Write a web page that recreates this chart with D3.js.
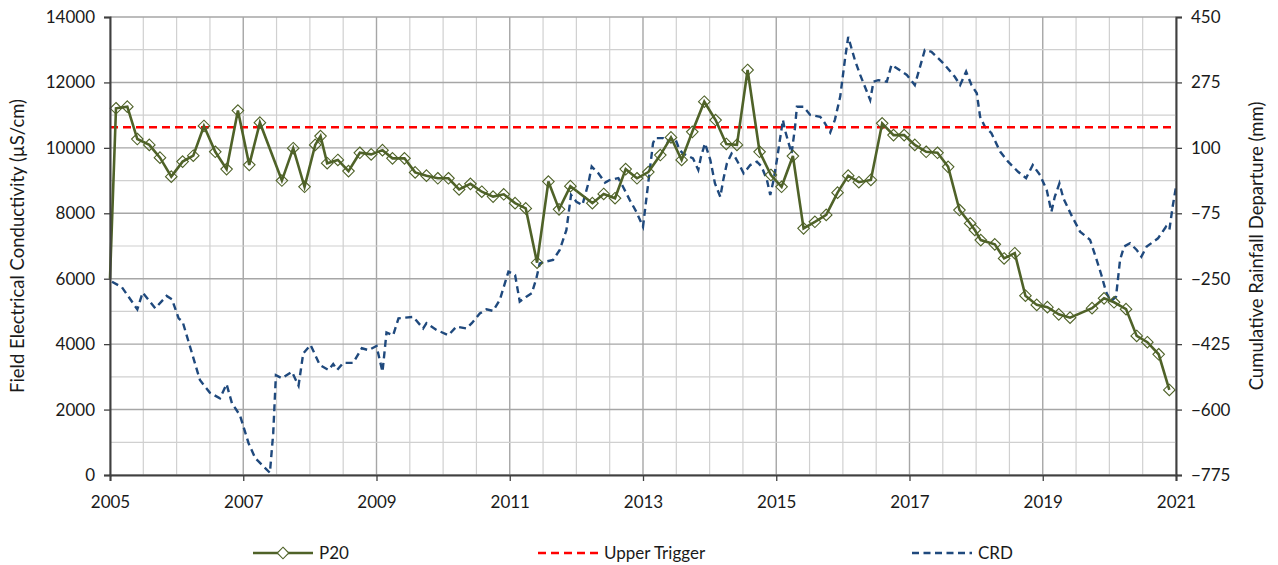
<!DOCTYPE html>
<html>
<head>
<meta charset="utf-8">
<script src="https://cdn.jsdelivr.net/npm/d3@7"></script>
<style>
  html, body { margin: 0; padding: 0; background: #fff; }
  svg { display: block; font-family: Lato, "Open Sans", "Liberation Sans", sans-serif; }
</style>
</head>
<body>
<svg id="chart" width="1278" height="565"></svg>
<script>
// P20 field EC samples (decimal year, µS/cm)
const p20Dates = [2005.0, 2005.09, 2005.26, 2005.41, 2005.59, 2005.75, 2005.92, 2006.09, 2006.25, 2006.41,
  2006.58, 2006.75, 2006.92, 2007.09, 2007.25, 2007.58, 2007.75, 2007.92, 2008.08, 2008.16,
  2008.26, 2008.42, 2008.58, 2008.75, 2008.92, 2009.09, 2009.24, 2009.42, 2009.58, 2009.75,
  2009.92, 2010.08, 2010.24, 2010.41, 2010.58, 2010.75, 2010.91, 2011.08, 2011.24, 2011.41,
  2011.58, 2011.74, 2011.91, 2012.24, 2012.41, 2012.58, 2012.74, 2012.91, 2013.08, 2013.26,
  2013.42, 2013.58, 2013.74, 2013.92, 2014.09, 2014.25, 2014.41, 2014.57, 2014.75, 2014.92,
  2015.08, 2015.25, 2015.41, 2015.58, 2015.75, 2015.92, 2016.08, 2016.24, 2016.42, 2016.59,
  2016.76, 2016.92, 2017.08, 2017.25, 2017.42, 2017.58, 2017.75, 2017.91, 2017.98, 2018.07,
  2018.28, 2018.42, 2018.58, 2018.74, 2018.91, 2019.07, 2019.24, 2019.41, 2019.74, 2019.92,
  2020.07, 2020.25, 2020.41, 2020.57, 2020.74, 2020.90];
const p20Values = [6000, 11210, 11260, 10270, 10090, 9700, 9120, 9580, 9760, 10670,
  9880, 9350, 11140, 9480, 10770, 9000, 9990, 8810, 10090, 10360,
  9530, 9630, 9290, 9850, 9800, 9930, 9680, 9680, 9250, 9150,
  9070, 9070, 8730, 8900, 8660, 8510, 8580, 8310, 8150, 6490,
  8970, 8120, 8830, 8310, 8590, 8460, 9350, 9070, 9260, 9780,
  10320, 9630, 10490, 11410, 10850, 10120, 10090, 12380, 9880, 9170,
  8810, 9750, 7540, 7740, 7950, 8630, 9150, 8950, 9020, 10750,
  10390, 10390, 10090, 9880, 9850, 9420, 8100, 7690, 7490, 7180,
  7050, 6620, 6780, 5480, 5200, 5130, 4910, 4810, 5100, 5400,
  5280, 5070, 4250, 4060, 3690, 2600];

// Upper trigger level (µS/cm)
const upperTrigger = 10630;

// Cumulative rainfall departure (decimal year, mm)
const crdDates = [2005.03, 2005.18, 2005.41, 2005.49, 2005.68, 2005.85, 2005.93, 2006.03, 2006.09, 2006.35,
  2006.50, 2006.65, 2006.75, 2006.83, 2006.95, 2007.08, 2007.18, 2007.40, 2007.45, 2007.49,
  2007.58, 2007.73, 2007.83, 2007.90, 2008.01, 2008.15, 2008.28, 2008.35, 2008.41, 2008.50,
  2008.65, 2008.78, 2008.88, 2009.00, 2009.09, 2009.15, 2009.25, 2009.33, 2009.55, 2009.70,
  2009.75, 2009.90, 2010.08, 2010.20, 2010.35, 2010.43, 2010.55, 2010.65, 2010.75, 2010.85,
  2010.98, 2011.08, 2011.15, 2011.25, 2011.33, 2011.40, 2011.45, 2011.55, 2011.65, 2011.75,
  2011.85, 2011.92, 2012.00, 2012.09, 2012.18, 2012.23, 2012.33, 2012.43, 2012.50, 2012.63,
  2012.70, 2012.80, 2012.90, 2013.00, 2013.15, 2013.18, 2013.30, 2013.36, 2013.48, 2013.55,
  2013.60, 2013.75, 2013.83, 2013.87, 2013.93, 2014.01, 2014.08, 2014.16, 2014.21, 2014.26,
  2014.33, 2014.38, 2014.46, 2014.51, 2014.61, 2014.71, 2014.78, 2014.86, 2014.91, 2014.96,
  2015.01, 2015.10, 2015.13, 2015.23, 2015.28, 2015.31, 2015.41, 2015.51, 2015.66, 2015.73,
  2015.81, 2015.88, 2015.96, 2016.03, 2016.08, 2016.18, 2016.26, 2016.41, 2016.46, 2016.53,
  2016.66, 2016.73, 2016.81, 2016.96, 2017.08, 2017.23, 2017.33, 2017.51, 2017.68, 2017.76,
  2017.85, 2017.93, 2018.01, 2018.06, 2018.13, 2018.23, 2018.36, 2018.48, 2018.63, 2018.75,
  2018.85, 2018.96, 2019.06, 2019.13, 2019.18, 2019.25, 2019.31, 2019.43, 2019.56, 2019.71,
  2019.81, 2019.88, 2019.95, 2020.02, 2020.10, 2020.16, 2020.22, 2020.31, 2020.41, 2020.48,
  2020.56, 2020.73, 2020.85, 2020.90, 2020.95, 2021.00];
const crdValues = [-258, -273, -332, -287, -329, -296, -305, -356, -365, -521,
  -555, -570, -532, -583, -615, -690, -730, -769, -663, -508,
  -516, -499, -536, -450, -427, -481, -494, -478, -494, -475,
  -475, -436, -441, -430, -499, -394, -401, -356, -352, -383,
  -369, -387, -401, -378, -383, -369, -343, -332, -336, -307,
  -231, -240, -311, -298, -289, -249, -209, -204, -200, -173,
  -120, -26, -44, -53, 5, 50, 32, 7, 14, 19,
  -4, -39, -71, -111, 112, 126, 126, 116, 126, 94,
  85, 72, 41, 76, 112, 68, 5, -31, 19, 59,
  85, 76, 50, 32, 54, 63, 50, 14, -26, 14,
  68, 175, 148, 85, 152, 210, 210, 188, 183, 166,
  141, 175, 237, 335, 397, 335, 295, 228, 277, 281,
  277, 322, 313, 295, 268, 362, 357, 326, 290, 268,
  304, 268, 246, 183, 157, 139, 90, 63, 36, 19,
  54, 27, -13, -71, -31, 5, -35, -80, -124, -146,
  -200, -240, -285, -311, -298, -200, -164, -155, -173, -191,
  -164, -142, -111, -120, -57, -4];

// Axis ticks
const xTicks = [2005, 2007, 2009, 2011, 2013, 2015, 2017, 2019, 2021];
const leftTicks = [0, 2000, 4000, 6000, 8000, 10000, 12000, 14000];
const rightTicks = [-775, -600, -425, -250, -75, 100, 275, 450];

const svg = d3.select("#chart");
const m = { left: 110, right: 102, top: 17, bottom: 90 };
const W = 1278, H = 565;
const x0 = m.left, x1 = W - m.right, y0 = H - m.bottom, y1 = m.top;

const x = d3.scaleLinear().domain([2005, 2021]).range([x0, x1]);
const yL = d3.scaleLinear().domain([0, 14000]).range([y0, y1]);
const yR = d3.scaleLinear().domain([-775, 450]).range([y0, y1]);

const COL_P20 = "#4f6228", COL_TRIG = "#ff0000", COL_CRD = "#1f497d";

// Grid: half-year verticals, 1000-step horizontals; labelled lines a touch darker
const grid = svg.append("g");
d3.range(2005, 2021.01, 0.5).forEach(v => {
  const major = xTicks.includes(v);
  grid.append("line").attr("x1", x(v)).attr("x2", x(v)).attr("y1", y1).attr("y2", y0)
    .attr("stroke", major ? "#a6a6a6" : "#d0d0d0").attr("stroke-width", major ? 1.4 : 1.2);
});
d3.range(0, 14001, 1000).forEach(v => {
  const major = v % 2000 === 0;
  grid.append("line").attr("x1", x0).attr("x2", x1).attr("y1", yL(v)).attr("y2", yL(v))
    .attr("stroke", major ? "#a6a6a6" : "#d0d0d0").attr("stroke-width", major ? 1.4 : 1.2);
});

svg.append("clipPath").attr("id", "plot")
  .append("rect").attr("x", x0).attr("y", y1 - 1).attr("width", x1 - x0).attr("height", y0 - y1 + 2);

const plot = svg.append("g").attr("clip-path", "url(#plot)");

// CRD on the right axis
const crd = crdDates.map((d, i) => [d, crdValues[i]]);
plot.append("path").datum(crd)
  .attr("fill", "none").attr("stroke", COL_CRD).attr("stroke-width", 2.4)
  .attr("stroke-dasharray", "7,4.5")
  .attr("d", d3.line().x(d => x(d[0])).y(d => yR(d[1])));

// Upper trigger
plot.append("line").attr("x1", x0).attr("x2", x1)
  .attr("y1", yL(upperTrigger)).attr("y2", yL(upperTrigger))
  .attr("stroke", COL_TRIG).attr("stroke-width", 2.6).attr("stroke-dasharray", "8,5");

// P20 line and diamond markers
const p20 = p20Dates.map((d, i) => [d, p20Values[i]]);
svg.append("path").datum(p20)
  .attr("fill", "none").attr("stroke", COL_P20).attr("stroke-width", 2.6)
  .attr("d", d3.line().x(d => x(d[0])).y(d => yL(d[1])));

const diamond = d3.symbol().type(d3.symbolDiamond2).size(85);
svg.append("g").selectAll("path").data(p20.filter(d => d[0] > 2005))
  .join("path")
  .attr("transform", d => `translate(${x(d[0])},${yL(d[1])})`)
  .attr("d", diamond)
  .attr("fill", "none").attr("stroke", COL_P20).attr("stroke-width", 1.1);

// Axes
const fs = "17px";
const axL = svg.append("g").attr("transform", `translate(${x0},0)`)
  .call(d3.axisLeft(yL).tickValues(leftTicks).tickSize(6).tickPadding(9).tickFormat(d3.format("d")));
const axR = svg.append("g").attr("transform", `translate(${x1},0)`)
  .call(d3.axisRight(yR).tickValues(rightTicks).tickSize(6).tickPadding(9).tickFormat(d3.format("d")));
const axB = svg.append("g").attr("transform", `translate(0,${y0})`)
  .call(d3.axisBottom(x).tickValues(xTicks).tickSize(6).tickPadding(15).tickFormat(d3.format("d")));
[axL, axR, axB].forEach(a => {
  a.select(".domain").attr("stroke", "#404040").attr("stroke-width", 2);
  a.selectAll(".tick line").attr("stroke", "#404040").attr("stroke-width", 1.3);
  a.selectAll("text").attr("font-size", fs).attr("fill", "#1a1a1a").attr("font-family", "Lato, sans-serif");
});

// Axis titles
svg.append("text").attr("transform", `translate(24,${(y0 + y1) / 2}) rotate(-90)`)
  .attr("text-anchor", "middle").attr("font-size", "18.5px").attr("fill", "#1a1a1a")
  .text("Field Electrical Conductivity (µS/cm)");
svg.append("text").attr("transform", `translate(1263,${(y0 + y1) / 2}) rotate(-90)`)
  .attr("text-anchor", "middle").attr("font-size", "18.5px").attr("fill", "#1a1a1a")
  .text("Cumulative Rainfall Departure (mm)");

// Legend
const legY = 553;
const leg = svg.append("g").attr("font-size", "17px").attr("fill", "#1a1a1a");
const items = [
  { name: "P20", x: 253, color: COL_P20, dash: null, marker: true },
  { name: "Upper Trigger", x: 538, color: COL_TRIG, dash: "8,5", marker: false },
  { name: "CRD", x: 912, color: COL_CRD, dash: "7,4.5", marker: false }
];
items.forEach(it => {
  leg.append("line").attr("x1", it.x).attr("x2", it.x + 60).attr("y1", legY).attr("y2", legY)
    .attr("stroke", it.color).attr("stroke-width", 2.6).attr("stroke-dasharray", it.dash);
  if (it.marker) {
    leg.append("path").attr("transform", `translate(${it.x + 30},${legY})`).attr("d", diamond)
      .attr("fill", "#fff").attr("stroke", COL_P20).attr("stroke-width", 1.1);
  }
  leg.append("text").attr("x", it.x + 66).attr("y", legY).attr("dy", "0.35em").text(it.name);
});
</script>
</body>
</html>
